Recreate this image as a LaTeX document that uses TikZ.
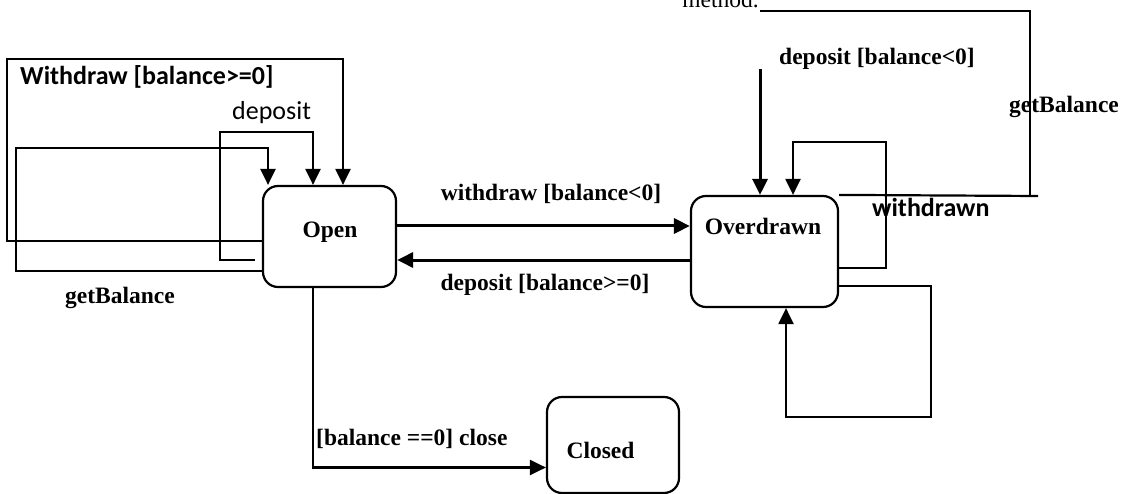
\documentclass[tikz,border=0pt]{standalone}
\usepackage{fontspec}
\setmainfont{Liberation Serif}
\newfontfamily\carlitofont{Carlito}
\usetikzlibrary{arrows.meta}
\begin{document}
\begin{tikzpicture}[x=1pt,y=-1pt,
  state/.style={draw, line width=2.2pt, rounded corners=15pt, inner sep=0pt},
  conn/.style={line width=2.2pt},
  arr/.style={line width=2.2pt, -{Triangle[width=15pt,length=16pt]}},
  thickarr/.style={line width=3pt, -{Triangle[width=15pt,length=16pt]}},
  lbl/.style={font=\fontsize{23.5}{26}\selectfont\bfseries, inner sep=0pt},
  clbl/.style={font=\fontsize{26}{30}\selectfont\carlitofont\bfseries, inner sep=0pt},
  cplain/.style={font=\fontsize{26}{30}\selectfont\carlitofont, inner sep=0pt}]
\useasboundingbox (0,0) rectangle (1123,494);

% states
\node[state, minimum width=133pt, minimum height=101pt] (open) at (329.5,236.5) {};
\node[state, minimum width=147pt, minimum height=111pt] (over) at (764.5,251.5) {};
\node[state, minimum width=132pt, minimum height=96pt] (closed) at (613,445) {};
\node[lbl, anchor=base] (topen) at (330,237) {Open};
\node[lbl, anchor=base] (tover) at (763,235) {Overdrawn};
\node[lbl, anchor=base] (tclosed) at (600.5,458) {Closed};

% Open <-> Overdrawn
\draw[thickarr] ([yshift=10.5pt]open.east) -- ([yshift=25.5pt]over.west);
\draw[thickarr] ([yshift=-8.5pt]over.west) -- ([yshift=-23.5pt]open.east);
\node[lbl, anchor=base] (l1) at (551,201) {withdraw [balance<0]};
\node[lbl, anchor=base] (l2) at (545,290) {deposit [balance>=0]};

% Open -> Closed
\draw[arr] ([xshift=-16.5pt]open.south) |- ([yshift=-22.5pt]closed.west);
\node[lbl, anchor=base west] (l3) at (316,445) {[balance ==0] close};

% self loops on Open
\draw[arr] ([yshift=-4.5pt]open.west) -| (7,59) -| ([xshift=13.5pt]open.north);
\draw[arr] ([xshift=-7pt,yshift=-23.5pt]open.west) -| (220,132) -| ([xshift=-16.5pt]open.north);
\draw[arr] ([yshift=-34.5pt]open.west) -| (16,148) -| ([xshift=-61.5pt]open.north);
\node[clbl, anchor=base west] (l4) at (20,85) {Withdraw [balance>=0]};
\node[cplain, anchor=base west] (l5) at (232,120) {deposit};
\node[lbl, anchor=base west] (l6) at (65,303) {getBalance};

% Overdrawn
\coordinate (dstart) at (760,69);
\draw[thickarr] (dstart) -- ([xshift=-4.5pt]over.north);
\node[lbl, anchor=base west] (l7) at (779,65) {deposit [balance<0]};
\draw[arr] ([yshift=-16.5pt]over.east) -| (886,142) -| ([xshift=28.5pt]over.north);
\draw[arr] ([yshift=-34.5pt]over.east) -| (931,417) -| ([xshift=21.5pt]over.south);
\node[clbl, anchor=base west] (l8) at (872,217) {withdrawn};

% getBalance lines
\draw[conn] (over.north east) -- (1038,196);
\draw[conn] (1030,196) |- (760,11);
\node[lbl, anchor=base west] (l9) at (1009,113) {getBalance};
\node[font=\fontsize{23.5}{26}\selectfont, inner sep=0pt, anchor=base east] (l10) at (759,8) {method.};
\end{tikzpicture}
\end{document}
